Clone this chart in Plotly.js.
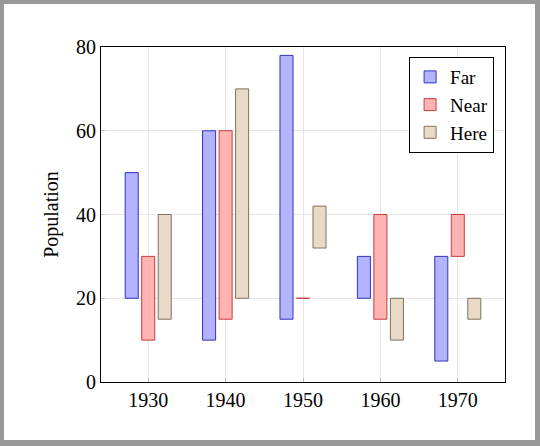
<!DOCTYPE html>
<html>
<head>
<meta charset="utf-8">
<script src="https://cdn.plot.ly/plotly-3.0.1.min.js"></script>
<style>
  html, body { margin: 0; padding: 0; background: #999999; }
  #frame { position: absolute; left: 4px; top: 4px; width: 531px; height: 436px; background: #ffffff; }
  #chart { width: 531px; height: 436px; }
</style>
</head>
<body>
<div id="frame"><div id="chart"></div></div>
<script>
// decades on the x axis
var years = [1930, 1940, 1950, 1960, 1970];
// each bar floats from low to high
var farLow = [20, 10, 15, 20, 5];
var farHigh = [50, 60, 78, 30, 30];
var nearLow = [10, 15, 20, 15, 30];
var nearHigh = [30, 60, 20, 40, 40];
var hereLow = [15, 20, 32, 10, 15];
var hereHigh = [40, 70, 42, 20, 20];

function span(lo, hi) {
    return hi.map(function (h, i) { return h - lo[i]; });
}

var serif = "'Liberation Serif', 'DejaVu Serif', serif";

var trace0 = {
    x: years,
    y: span(farLow, farHigh),
    base: farLow,
    type: 'bar',
    name: 'Far',
    marker: {color: 'rgb(179,179,255)', line: {color: 'rgb(50,50,190)', width: 1}}
};
var trace1 = {
    x: years,
    y: span(nearLow, nearHigh),
    base: nearLow,
    type: 'bar',
    name: 'Near',
    marker: {color: 'rgb(255,179,179)', line: {color: 'rgb(200,60,60)', width: 1}}
};
var trace2 = {
    x: years,
    y: span(hereLow, hereHigh),
    base: hereLow,
    type: 'bar',
    name: 'Here',
    marker: {color: 'rgb(233,218,199)', line: {color: 'rgb(125,115,95)', width: 1}}
};

var layout = {
    barmode: 'group',
    bargap: 0.36,
    bargroupgap: 0.21,
    font: {family: serif, size: 20, color: '#000'},
    paper_bgcolor: '#ffffff',
    plot_bgcolor: '#ffffff',
    margin: {t: 43, r: 30, l: 97, b: 58},
    xaxis: {
        range: [1923.9, 1976.1],
        tickvals: years,
        ticktext: years.map(String),
        showgrid: true,
        gridcolor: '#e6e6e6',
        zeroline: false,
        showline: true,
        linecolor: '#000',
        linewidth: 1,
        mirror: true,
        ticks: 'inside',
        ticklen: 4,
        tickcolor: '#bbbbbb',
        tickfont: {family: serif, size: 20}
    },
    yaxis: {
        range: [0, 80],
        tickvals: [0, 20, 40, 60, 80],
        showgrid: true,
        gridcolor: '#e6e6e6',
        zeroline: false,
        showline: true,
        linecolor: '#000',
        linewidth: 1,
        mirror: true,
        ticks: 'inside',
        ticklen: 4,
        tickcolor: '#bbbbbb',
        tickfont: {family: serif, size: 20},
        title: {text: 'Population', font: {family: serif, size: 20}, standoff: 12}
    },
    showlegend: true,
    legend: {
        x: 0.973, y: 0.97, xanchor: 'right', yanchor: 'top',
        bgcolor: '#fff', bordercolor: '#000', borderwidth: 1,
        entrywidth: 60,
        font: {family: serif, size: 19}
    }
};

Plotly.newPlot('chart', [trace0, trace1, trace2], layout, {displayModeBar: false, responsive: false});
</script>
</body>
</html>
